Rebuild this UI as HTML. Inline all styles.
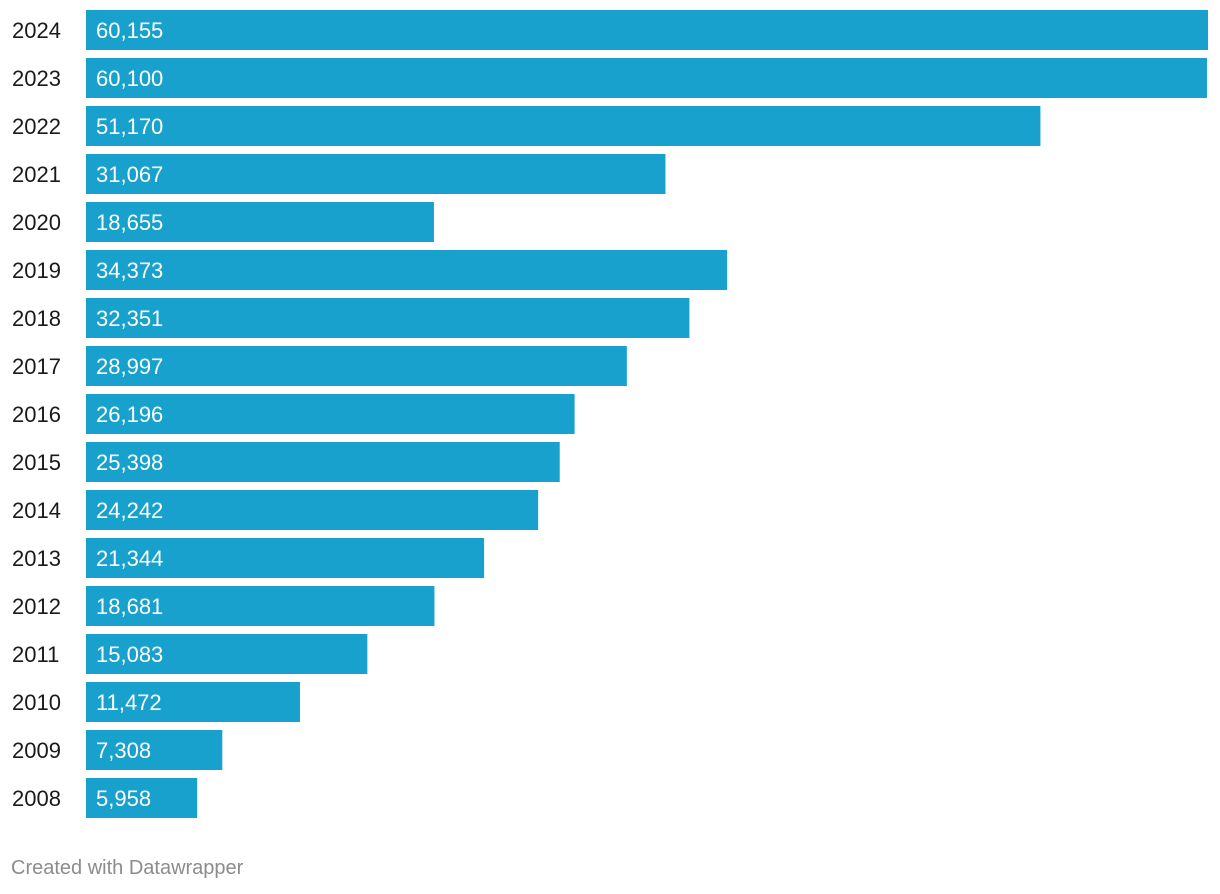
<!DOCTYPE html>
<html>
<head>
<meta charset="utf-8">
<style>
  html, body { margin: 0; padding: 0; background: #ffffff; }
  body { width: 1220px; height: 894px; position: relative; overflow: hidden; font-family: "Liberation Sans", Arial, sans-serif; }
  #chart { position: absolute; left: 0; top: 0; }
  .footer { position: absolute; left: 11px; top: 857px; font-size: 20px; color: #8c8c8c; }
</style>
</head>
<body>
<svg id="chart" width="1220" height="840" xmlns="http://www.w3.org/2000/svg"></svg>
<div class="footer">Created with Datawrapper</div>
<script>
const years = ["2024","2023","2022","2021","2020","2019","2018","2017","2016","2015","2014","2013","2012","2011","2010","2009","2008"];
const values = [60155,60100,51170,31067,18655,34373,32351,28997,26196,25398,24242,21344,18681,15083,11472,7308,5958];
const valueLabels = ["60,155","60,100","51,170","31,067","18,655","34,373","32,351","28,997","26,196","25,398","24,242","21,344","18,681","15,083","11,472","7,308","5,958"];

const svg = document.getElementById('chart');
const NS = 'http://www.w3.org/2000/svg';
const x0 = 86, x1 = 1208;
const maxV = Math.max(...values);
function xScale(v) { return x0 + (v / maxV) * (x1 - x0); }
function yScale(i) { return 10 + i * 48; }
const barH = 40;

years.forEach((yr, i) => {
  const y = yScale(i);
  const label = document.createElementNS(NS, 'text');
  
  
  label.setAttribute('x', 12);
  label.setAttribute('y', y + 28);
  label.setAttribute('font-size', '22');
  label.setAttribute('fill', '#1a1a1a');
  label.setAttribute('font-family', 'Liberation Sans, Arial, sans-serif');
  label.textContent = yr;
  svg.appendChild(label);

  const rect = document.createElementNS(NS, 'rect');
  
  
  rect.setAttribute('x', x0);
  rect.setAttribute('y', y);
  rect.setAttribute('width', xScale(values[i]) - x0);
  rect.setAttribute('height', barH);
  rect.setAttribute('fill', '#18a1cd');
  svg.appendChild(rect);

  const val = document.createElementNS(NS, 'text');
  
  
  val.setAttribute('x', x0 + 10);
  val.setAttribute('y', y + 28);
  val.setAttribute('font-size', '22');
  val.setAttribute('fill', '#ffffff');
  val.setAttribute('font-family', 'Liberation Sans, Arial, sans-serif');
  val.textContent = valueLabels[i];
  svg.appendChild(val);
});
</script>
</body>
</html>
